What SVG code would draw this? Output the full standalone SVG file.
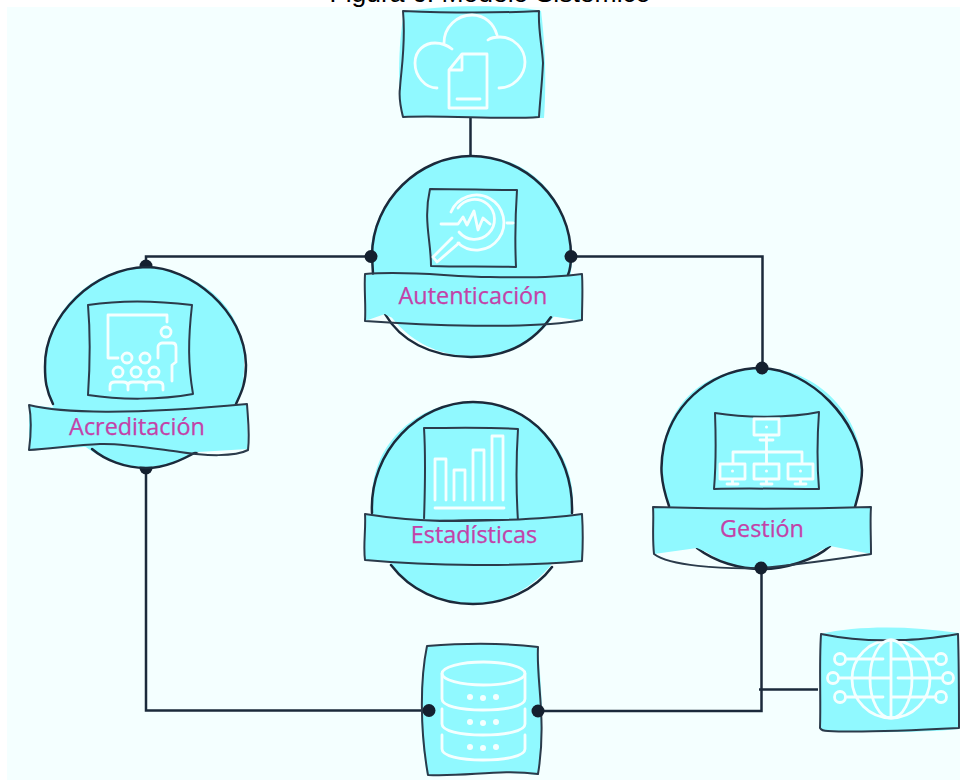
<svg xmlns="http://www.w3.org/2000/svg" width="960" height="781" viewBox="0 0 960 781">
<style>
.fill{fill:#90f9ff;stroke:none}
.ink{fill:none;stroke:#1b2a3b;stroke-width:2.5;stroke-linecap:round;stroke-linejoin:round}
.thin{fill:none;stroke:#2b3b4b;stroke-width:2;stroke-linecap:round;stroke-linejoin:round}
.wire{fill:none;stroke:#1b2a3b;stroke-width:2.5}
.ico{fill:none;stroke:#f4ffff;stroke-width:2.8;stroke-linecap:round;stroke-linejoin:round}
.dotw{fill:#f4ffff}
.dot{fill:#14202f}
.lbl{font-family:"Open Sans","Noto Sans",sans-serif;font-size:23.4px;fill:#c342a8;stroke:#c342a8;stroke-width:.25;text-anchor:middle}
.title{font-family:"Liberation Sans",Arial,sans-serif;font-size:26.5px;fill:#000;text-anchor:middle}
</style>
<rect width="960" height="781" fill="#fff"/>
<rect x="7" y="7" width="953" height="773" fill="#f4ffff"/>
<text class="title" x="490" y="2">Figura 6. Modelo Sistémico</text>

<g id="connectors">
<path class="wire" d="M470.500 118V156"/>
<path class="wire" d="M371 256.500H146V268"/>
<path class="wire" d="M571 256.500H762.500V368"/>
<path class="wire" d="M146 468V710.500H429"/>
<path class="wire" d="M538 711H761.500V568"/>
<path class="wire" d="M759 689.500H818" stroke-width="2.800"/>
</g>

<g id="nube">
<path class="fill" d="M404 12C440 4 520 5 541 11C546 50 546 90 544 118L402 117C397 80 399 40 404 12Z"/>
<path class="thin" d="M403 11C450 13 500 13 539 11C538 30 542 45 543 63C542 85 540 100 539 117C500 120 450 115 403 117C400 105 399 95 400 88C401 70 406 45 403 11Z"/>
<path class="ico" d="M437 88C425 88 415 76 415 63C415 50 425 43 435 43C441 43 447 45 452 49M444 43C444 27 457 15 472 15C485 15 494 24 497 35M488 40C492 37 496 37 500 37C514 37 525 49 525 62C525 76 513 88 499 88"/>
<path class="ico" d="M449 108V70L462 54H487V108ZM462 56V70H450M457 99H480"/>
</g>

<g id="autenticacion">
<path class="fill" d="M471 156C530 154 570 200 572 256C572 320 525 357 470 356C415 356 370 310 371 256C370 205 415 158 471 156Z"/>
<path class="ink" d="M372 256C372 200 420 156 471 156C525 156 571 200 571 256C571 262 570 270 568 275M385 314C400 340 430 357 471 357C510 357 535 340 551 317M372 256L373 274"/>
<path class="thin" d="M430 189C460 189 490 190 517 190C515 220 515 245 516 267C490 266 460 267 431 266C431 240 423 220 430 189Z"/>
<path class="ico" d="M441 224H458L463 217L467 225L474 211L478 230L483 218L490 224M507 223H513"/>
<path class="ico" d="M451 212A27.500 27.500 0 1 1 458 243M458 208A20 20 0 1 1 459 232"/>
<path class="ico" d="M459 243L437 262L433 257L452 238"/>
<path class="fill" d="M365 275C400 272 450 280 583 275V321L550 316C530 328 400 328 385 314L365 321Z"/>
<path class="thin" d="M365 274C410 270 450 277 490 277C530 278 560 277 582 274C583 290 582 305 582 320C530 330 420 325 365 321C366 305 364 290 365 274Z"/>
<text class="lbl" x="473" y="303.500">Autenticación</text>
<circle class="dot" cx="371" cy="256.500" r="6.500"/>
<circle class="dot" cx="571" cy="256.500" r="6.500"/>
</g>

<g id="acreditacion">
<circle class="dot" cx="146" cy="266" r="6.500"/>
<circle class="dot" cx="146" cy="468" r="6.500"/>
<path class="fill" d="M146 267C200 270 248 310 244 365C245 420 200 468 146 467C90 467 44 420 45 367C44 315 90 267 146 267Z"/>
<path class="ink" d="M146 267C190 267 245 310 246 365C246 385 240 395 236 404M53 404C46 390 45 380 45 367C44 315 95 268 146 267M92 449C105 460 125 468 146 468C165 468 182 460 198 451"/>
<path class="thin" d="M88 305C120 300 160 301 192 305C188 340 188 365 193 394C160 400 120 400 88 395C90 365 91 340 88 305Z"/>
<path class="ico" d="M167 322V315H108V358H118"/>
<circle class="ico" cx="166" cy="332" r="5"/>
<path class="ico" d="M158 358V347C158 345 160 343 162 343H172C175 343 176 345 176 347V362L172 365V381"/>
<circle class="ico" cx="127" cy="358" r="5"/><circle class="ico" cx="145" cy="358" r="5"/>
<circle class="ico" cx="118" cy="372" r="5"/><circle class="ico" cx="136" cy="372" r="5"/><circle class="ico" cx="154" cy="372" r="5"/>
<path class="ico" d="M110 390V386C110 383 112 382 115 382H123C126 382 128 383 128 386V390M128 386C128 383 130 382 133 382H141C144 382 146 383 146 386V390M146 386C146 383 148 382 151 382H158C161 382 163 383 163 386V390"/>
<path class="fill" d="M29 405C80 412 170 410 247 404L248 449L198 452L120 445L29 450Z"/>
<path class="thin" d="M29 405C60 413 130 415 247 404C248 420 250 435 248 450C235 457 205 456 180 452C150 448 120 443 100 444C75 445 50 449 29 450C31 435 32 420 29 405Z"/>
<text class="lbl" x="137" y="434.500">Acreditación</text>
</g>

<g id="estadisticas">
<path class="fill" d="M470 402C530 400 575 450 573 505C572 560 525 604 470 604C415 604 370 560 372 500C372 440 420 403 470 402Z"/>
<path class="ink" d="M372 513C369 450 420 402 473 402C530 402 574 450 572 513M391 565C410 590 440 604 473 604C505 604 535 590 552 567"/>
<path class="thin" d="M424 428C450 428 490 427 518 429C516 460 516 490 518 521C490 518 450 522 424 520C425 490 426 460 424 428Z"/>
<path class="ico" d="M435 500V459H446V500M454 500V470H465V500M473 500V450H484V500M492 500V436H503V500M435 508H504"/>
<path class="fill" d="M365 514C420 522 530 522 583 514V561C520 568 430 566 365 560Z"/>
<path class="thin" d="M365 514C390 518 410 520 440 521C490 521 540 520 582 514C583 530 583 545 582 561C520 567 430 566 365 560C363 545 366 530 365 514Z"/>
<text class="lbl" x="474" y="543">Estadísticas</text>
</g>

<g id="gestion">
<path class="fill" d="M762 368C820 368 864 420 862 470C862 520 820 570 762 569C705 569 660 520 662 470C660 410 700 368 762 368Z"/>
<path class="ink" d="M669 506C660 480 660 465 664 445C675 400 715 368 762 368C810 370 860 420 862 470C862 485 858 495 855 507M697 548C715 562 740 569 762 569C785 569 815 560 830 546"/>
<path class="thin" d="M715 413C745 418 790 418 819 412C817 440 817 465 819 489C790 489 745 488 714 489C716 465 716 440 715 413Z"/>
<path class="ico" d="M754 419H779V435H754ZM760 440H773M766.500 435V464M733 464V452H802V464M720 464H745V479H720ZM754 464H779V479H754ZM788 464H813V479H788ZM727 484H738M761 484H772M795 484H806M732.500 479V484M766.500 479V484M800.500 479V484" stroke-width="2.200"/>
<circle class="dotw" cx="766.500" cy="427" r="1.500"/><circle class="dotw" cx="732.500" cy="471" r="1.500"/><circle class="dotw" cx="766.500" cy="471" r="1.500"/><circle class="dotw" cx="800.500" cy="471" r="1.500"/>
<path class="fill" d="M653 507C720 509 810 509 871 507V554L830 546C800 562 730 565 697 548L654 554Z"/>
<path class="thin" d="M653 507C720 509 810 509 871 507C870 520 871 535 871 554C830 560 790 566 760 568C720 569 670 566 654 554C652 535 654 520 653 507Z"/>
<text class="lbl" x="762" y="537">Gestión</text>
<circle class="dot" cx="762" cy="368" r="6.500"/>
<circle class="dot" cx="761" cy="568" r="6.500"/>
</g>

<g id="base-datos">
<path class="fill" d="M427 646C465 643 505 643 538 646C540 680 546 720 538 775C500 770 465 776 427 775C419 730 419 680 427 646Z"/>
<path class="thin" d="M427 646C465 643 505 643 538 647C536 680 547 720 538 774C500 769 465 777 428 775C420 730 420 680 427 646Z"/>
<path class="ico" d="M442 674V699C442 706 460 710 483 710C506 710 525 706 525 699V674"/>
<ellipse class="ico" cx="483.500" cy="673.500" rx="41.500" ry="11.500"/>
<path class="ico" d="M442 709V724C442 731 460 735 483 735C506 735 525 731 525 724V709M442 735V749C442 756 460 760 483 760C506 760 525 756 525 749V735"/>
<circle class="dotw" cx="470" cy="697" r="3"/><circle class="dotw" cx="483" cy="698" r="3"/><circle class="dotw" cx="496" cy="697" r="3"/>
<circle class="dotw" cx="470" cy="722" r="3"/><circle class="dotw" cx="483" cy="723" r="3"/><circle class="dotw" cx="496" cy="722" r="3"/>
<circle class="dotw" cx="470" cy="747" r="3"/><circle class="dotw" cx="483" cy="748" r="3"/><circle class="dotw" cx="496" cy="747" r="3"/>
<circle class="dot" cx="429" cy="710.500" r="6.500"/>
<circle class="dot" cx="538" cy="711" r="6.500"/>
</g>

<g id="red">
<path class="fill" d="M820 634C860 625 910 626 959 633V729C920 733 860 733 820 730Z"/>
<circle class="ico" cx="891" cy="679" r="39"/>
<path class="thin" d="M821 634C850 640 875 641 900 640C920 640 940 637 958 634C959 665 959 700 959 728C920 730 860 733 828 731C824 731 821 730 820 728C821 700 819 665 821 634Z"/>
<ellipse class="ico" cx="891" cy="679" rx="21" ry="39"/>
<path class="ico" d="M891 641V717M846 659H883M839 678H890M846 697H883M891 659H936M898 678H942M891 697H936"/>
<circle class="ico" cx="840" cy="659" r="5.500"/><circle class="ico" cx="833" cy="678" r="5.500"/><circle class="ico" cx="840" cy="697" r="5.500"/>
<circle class="ico" cx="941" cy="659" r="5.500"/><circle class="ico" cx="948" cy="678" r="5.500"/><circle class="ico" cx="941" cy="697" r="5.500"/>
</g>
</svg>
